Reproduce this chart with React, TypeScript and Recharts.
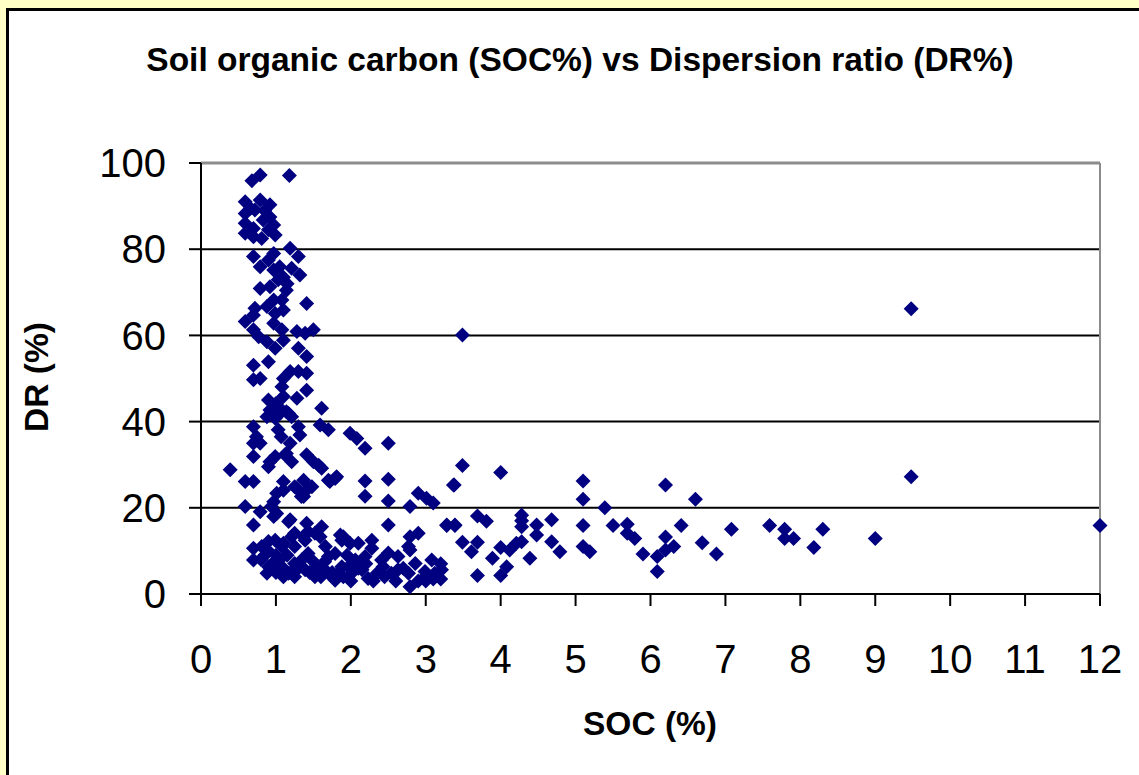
import { CartesianGrid, ReferenceLine, Scatter, ScatterChart, XAxis, YAxis } from "recharts"

const socPct = [
  0.68, 0.79, 1.18, 0.59, 0.79, 0.92, 0.59, 0.59, 0.59, 0.72, 0.83, 0.92, 0.7, 0.7, 0.81, 0.9, 0.99, 0.97, 0.66, 0.85,
  0.7, 0.79, 0.97, 1.19, 1.3, 1.21, 1.32, 0.9, 0.97, 1.05, 0.79, 0.92, 1.03, 1.14, 0.97, 1.08, 1.41, 0.72, 1.1, 1.15,
  0.59, 0.7, 0.88, 0.99, 1.1, 0.97, 1.08, 0.7, 0.77, 0.88, 0.99, 1.1, 1.28, 1.39, 1.5, 1.3, 1.41,
  0.7, 0.9, 0.7, 0.79, 1.1, 1.19, 1.3, 1.41, 1.08, 1.1, 1.41, 1.28, 0.9, 0.92, 1.03, 1.14, 0.88, 0.99, 1.06, 1.61, 1.17, 1.21, 1.0,
  0.7, 0.74, 1.03, 1.07, 1.3, 1.32, 1.59, 1.7, 0.7, 1.19, 0.79, 1.99, 2.08, 2.19, 2.5, 1.12, 0.99, 1.41, 0.7, 0.92, 1.14, 1.21, 1.5, 1.57, 0.9, 1.61,
  0.39, 0.59, 0.7, 1.81, 1.72, 1.1, 1.37, 1.28, 1.43, 1.37, 1.01, 0.59, 0.79, 0.97, 1.79, 2.19, 2.19, 2.5, 2.5, 2.79, 2.9, 3.01, 3.1, 3.37, 3.49, 4.0, 1.1, 1.25, 1.48, 1.34, 1.7, 0.94,
  1.19, 0.7, 1.41, 1.61, 0.97, 1.01, 1.17, 1.25, 1.43, 2.5, 3.28, 3.39, 1.9, 1.99, 2.28, 2.79, 2.9, 2.79, 2.5, 0.7, 0.9, 1.1, 1.21, 1.37, 1.59, 1.86, 0.81, 0.99, 1.08, 1.25, 1.39, 1.52, 1.66, 1.88, 2.1, 2.28, 2.63, 2.77, 1.43, 1.79,
  0.7, 0.88, 0.9, 1.03, 1.17, 1.25, 1.39, 1.52, 1.61, 1.7, 1.79, 1.88, 2.01, 2.15, 2.23, 2.35, 2.43, 2.54, 2.63, 2.79, 2.77, 2.86, 2.99, 3.08, 3.12, 3.21, 2.41, 2.06, 1.7, 1.48, 1.97, 2.19, 1.83,
  0.8, 0.85, 0.95, 1.0, 1.05, 1.1, 1.15, 1.2, 1.25, 1.3, 1.35, 1.0, 0.9, 1.1, 1.45, 1.55, 1.6, 1.75, 1.9, 2.0, 2.1, 2.3, 2.45, 2.6, 2.9, 3.0, 3.2, 3.0, 3.1, 3.2, 2.7, 2.2, 1.65, 1.95,
  3.49, 3.38, 5.1, 5.1, 6.2, 6.6, 5.39, 3.28, 3.39, 3.69, 3.81, 3.49, 3.61, 3.69, 3.89, 3.69, 4.0, 4.0, 4.08, 4.12, 4.21, 4.28, 4.28, 4.28, 4.28, 4.39, 4.48, 4.48, 4.68, 4.68, 4.79,
  5.1, 5.1, 5.19, 5.5, 5.69, 5.69, 5.79, 5.9, 6.09, 6.09, 6.2, 6.2, 6.31, 6.41, 6.69, 6.88, 7.08, 7.59, 7.79, 7.79, 7.91, 8.18, 8.3, 9.0, 9.48, 9.48, 12.0,
]

const drPct = [
  95.9, 97.2, 97.1, 91, 91.4, 90.3, 88.3, 86, 83.7, 89.1, 86.8, 87.5, 84.8, 82.9, 82.5, 84.5, 83.3, 85.6, 89.5, 89,
  78.3, 75.9, 79, 80.2, 78.3, 75.6, 74, 77.5, 75.2, 75.9, 70.9, 71.3, 72.9, 70.5, 68.2, 68.2, 67.4, 66.3, 73.5, 72,
  63.2, 64.7, 66.7, 65.1, 65.9, 62.8, 61.3, 61.3, 59.7, 58.5, 57, 58.9, 60.9, 60.5, 61.3, 57, 55.1,
  53.1, 53.9, 49.7, 50, 50, 51.6, 51.6, 51.2, 48.1, 45.8, 47.3, 45.4, 45, 42.7, 43.5, 42.3, 41.1, 40.8, 42, 43.1, 41.9, 41.1, 44.2,
  38.8, 36.5, 38.1, 36.5, 38.8, 36.9, 39.2, 38.1, 35, 35, 35, 37.3, 36.1, 33.8, 35, 32.3, 31.9, 32.3, 31.9, 30.7, 32.6, 30.7, 30.7, 29.9, 29.5, 29.2,
  28.8, 26.1, 26.1, 27.2, 26.1, 26.1, 26.4, 24.5, 24.5, 22.6, 23.4, 20.3, 19.1, 21.4, 26.8, 26.2, 22.7, 26.6, 21.6, 20.3, 23.4, 22.2, 21.1, 25.3, 29.8, 28.2, 24.1, 24.9, 24.9, 22.6, 26.4, 20.3,
  17.2, 16, 16.4, 15.6, 18, 18.7, 16.8, 14.1, 14.5, 16, 16, 16, 13.3, 11.8, 12.5, 13.3, 14.1, 10.2, 9.5, 10.6, 12.2, 11.8, 13.3, 13.3, 13.3, 13.7, 11, 12.5, 11, 11, 12.5, 14.1, 11, 12.5, 11.8, 10.6, 8.7, 11, 9.4, 9.4,
  7.9, 4.8, 6.3, 6.3, 4.8, 7.1, 5.6, 4, 6.3, 4.8, 3.2, 6.3, 4.8, 5.6, 3.6, 4.8, 6.3, 4.8, 5.6, 1.7, 4.8, 7.1, 5.2, 7.9, 4.8, 5.6, 7.9, 7.9, 8.7, 7.9, 6.3, 8.7, 4.8,
  8, 9, 7, 9, 8, 6, 9, 5, 4, 6, 8, 5, 10, 4, 5, 6, 4, 5, 4, 3, 6, 3, 4, 3, 3, 3, 3.5, 4.2, 3.5, 7, 6, 7, 7.5, 9,
  60.1, 25.3, 26.2, 22, 25.3, 22, 20, 15.9, 15.9, 18.1, 16.9, 12, 9.8, 12, 8.3, 4.3, 10.8, 4.3, 6.3, 10.2, 11.8, 18.3, 17, 15.6, 12.1, 8.3, 16, 13.7, 17.2, 12.1, 9.8,
  15.9, 11, 9.8, 15.9, 16.2, 14.1, 12.9, 9.3, 8.7, 5.2, 13.2, 10.2, 11, 15.9, 11.9, 9.3, 15, 15.9, 15, 12.9, 12.9, 10.8, 15, 12.9, 66.2, 27.2, 15.9,
]

const xTicks = [0, 1, 2, 3, 4, 5, 6, 7, 8, 9, 10, 11, 12]
const yTicks = [0, 20, 40, 60, 80, 100]

const data = socPct.map((soc, i) => ({ soc, dr: drPct[i] }))

const font = 'Arial, "Liberation Sans", sans-serif'

const Diamond = (props: any) => {
  const { cx, cy } = props
  const r = 7.5
  return <path d={`M${cx},${cy - r}L${cx + r},${cy}L${cx},${cy + r}L${cx - r},${cy}Z`} fill="#000080" />
}

export default function App() {
  return (
    <div
      style={{
        position: "fixed",
        left: 0,
        top: 0,
        width: 1139,
        height: 775,
        background: "#FFFFC6",
        overflow: "hidden",
        fontFamily: font,
      }}
    >
      <div
        style={{
          position: "absolute",
          left: 6,
          top: 8,
          width: 1200,
          height: 820,
          border: "3px solid #000",
          background: "#fff",
        }}
      />
      <div
        style={{
          position: "absolute",
          left: 580,
          top: 60,
          transform: "translate(-50%, -50%)",
          fontSize: 33.5,
          fontWeight: "bold",
          whiteSpace: "nowrap",
        }}
      >
        Soil organic carbon (SOC%) vs Dispersion ratio (DR%)
      </div>
      <div
        style={{
          position: "absolute",
          left: 650,
          top: 724,
          transform: "translate(-50%, -50%)",
          fontSize: 33.5,
          fontWeight: "bold",
          whiteSpace: "nowrap",
        }}
      >
        SOC (%)
      </div>
      <div
        style={{
          position: "absolute",
          left: 37,
          top: 377,
          transform: "translate(-50%, -50%) rotate(-90deg)",
          fontSize: 33.5,
          fontWeight: "bold",
          whiteSpace: "nowrap",
        }}
      >
        DR (%)
      </div>
      <div style={{ position: "absolute", left: 0, top: 0 }}>
        <ScatterChart width={1139} height={775} margin={{ top: 163, right: 39, bottom: 111, left: 0 }}>
          <CartesianGrid vertical={false} stroke="#000" strokeWidth={2} />
          <ReferenceLine y={100} stroke="#8c8c8c" strokeWidth={3} />
          <ReferenceLine x={12} stroke="#8c8c8c" strokeWidth={2} />
          <XAxis
            type="number"
            dataKey="soc"
            domain={[0, 12]}
            ticks={xTicks}
            interval={0}
            height={70}
            tickSize={12}
            tickMargin={39}
            axisLine={{ stroke: "#000", strokeWidth: 2 }}
            tickLine={{ stroke: "#000", strokeWidth: 2 }}
            tick={{ fill: "#000", fontSize: 40, fontFamily: font }}
          />
          <YAxis
            type="number"
            dataKey="dr"
            domain={[0, 100]}
            ticks={yTicks}
            interval={0}
            width={201}
            tickSize={12}
            tickMargin={23}
            axisLine={{ stroke: "#000", strokeWidth: 2 }}
            tickLine={{ stroke: "#000", strokeWidth: 2 }}
            tick={{ fill: "#000", fontSize: 40, fontFamily: font }}
          />
          <Scatter data={data} shape={Diamond} isAnimationActive={false} />
        </ScatterChart>
      </div>
    </div>
  )
}
